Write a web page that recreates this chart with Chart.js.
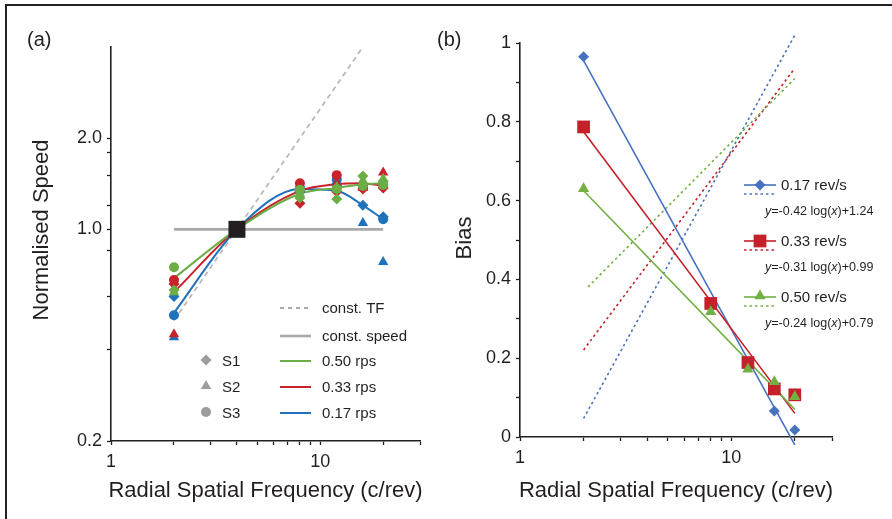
<!DOCTYPE html>
<html><head><meta charset="utf-8">
<script src="https://cdn.jsdelivr.net/npm/chart.js@4/dist/chart.umd.min.js"></script>
<style>
html,body{margin:0;padding:0;background:#fff;overflow:hidden;}
#wrap{position:relative;width:892px;height:519px;overflow:hidden;}
canvas{position:absolute;left:0;top:0;}
#frame{position:absolute;left:5px;top:4px;width:1000px;height:700px;border-left:2px solid #222;border-top:2px solid #222;}
</style></head><body>
<div id="wrap">
<div id="frame"></div>
<canvas id="ca" width="892" height="519" style="width:892px;height:519px"></canvas>
<canvas id="cb" width="892" height="519" style="width:892px;height:519px"></canvas>
</div>
<script>
// ---------- Panel (a) data ----------
const freqA = [2, 4, 8, 12, 16, 20];
const fit050A = [0.69, 1.00, 1.31, 1.37, 1.41, 1.42];
const fit033A = [0.62, 1.00, 1.34, 1.41, 1.42, 1.39];
const fit017A = [0.53, 1.00, 1.36, 1.34, 1.20, 1.08];
const tfX = [2, 16];
const tfY = [0.5, 4];
const speedX = [2, 20];
const speedY = [1, 1];
const normX = [4];
const normY = [1];
const freqPts = [2, 8, 12, 16, 20];
const s1_050 = [0.63, 1.27, 1.26, 1.50, 1.44];
const s2_050 = [0.62, 1.31, 1.38, 1.45, 1.47];
const s3_050 = [0.75, 1.35, 1.36, 1.39, 1.40];
const s1_033 = [0.66, 1.22, 1.33, 1.36, 1.37];
const s2_033 = [0.45, 1.38, 1.42, 1.37, 1.54];
const s3_033 = [0.68, 1.42, 1.51, 1.38, 1.40];
const s1_017 = [0.60, 1.33, 1.40, 1.20, 1.10];
const s2_017 = [0.44, 1.36, 1.44, 1.05, 0.78];
const s3_017 = [0.52, 1.37, 1.46, 1.38, 1.08];
const xTicks = [1, 2, 3, 4, 5, 6, 7, 8, 9, 10, 20, 30];
const xTickLabels = {1: '1', 10: '10'};
const yTicksA = [0.2, 0.4, 0.6, 0.85, 1, 1.2, 1.5, 1.8, 2];
const yTickLabelsA = {0.2: '0.2', 1: '1.0', 2: '2.0'};
const legendA = ['const. TF', 'const. speed', '0.50 rps', '0.33 rps', '0.17 rps'];
const subjLabels = ['S1', 'S2', 'S3'];

// ---------- Panel (b) data ----------
const freqB = [2, 8, 12, 16, 20];
const bias017 = [0.965, 0.33, 0.18, 0.066, 0.018];
const bias033 = [0.787, 0.339, 0.189, 0.122, 0.107];
const bias050 = [0.630, 0.318, 0.172, 0.140, 0.102];
const fitLineX = [2, 20];
const fit017B = [0.955, -0.02];
const fit033B = [0.775, 0.06];
const fit050B = [0.625, 0.07];
const dotX017 = [2, 20];
const dot017 = [0.047, 1.02];
const dotX033 = [2, 20];
const dot033 = [0.221, 0.936];
const dotX050 = [2.1, 20];
const dot050 = [0.381, 0.910];
const yTicksB = [0, 0.1, 0.2, 0.3, 0.4, 0.5, 0.6, 0.7, 0.8, 0.9, 1];
const legendB = ['0.17 rev/s', '0.33 rev/s', '0.50 rev/s'];
const eqB = [['-0.42', '+1.24'], ['-0.31', '+0.99'], ['-0.24', '+0.79']];

const FONT = '"Liberation Sans", Arial, Helvetica, sans-serif';
const INK = '#231f20';
const GREEN = '#6cae46', RED = '#c9222b', BLUE = '#1f72bb';
const GREEN_B = '#72b043', RED_B = '#c4212a', BLUE_B = '#4672c0';
const GREY = '#a9a9ad';

function pts(xs, ys) { return xs.map((x, i) => ({x: x, y: ys[i]})); }

function marker(ctx, style, x, y, r, color) {
  ctx.save();
  ctx.fillStyle = color;
  ctx.beginPath();
  if (style === 'circle') ctx.arc(x, y, r, 0, Math.PI * 2);
  else if (style === 'triangle') { ctx.moveTo(x, y - r); ctx.lineTo(x + r * 0.866, y + r / 2); ctx.lineTo(x - r * 0.866, y + r / 2); ctx.closePath(); }
  else if (style === 'rectRot') { ctx.moveTo(x - r, y); ctx.lineTo(x, y - r); ctx.lineTo(x + r, y); ctx.lineTo(x, y + r); ctx.closePath(); }
  else if (style === 'rect') { const s = r * Math.SQRT1_2; ctx.rect(x - s, y - s, 2 * s, 2 * s); }
  ctx.fill();
  ctx.restore();
}

function scatterSet(data, color, style, r, order) {
  return {data: pts(freqPts, data), showLine: false, pointStyle: style, pointRadius: r,
    pointBackgroundColor: color, pointBorderColor: color, pointBorderWidth: 0, order: order};
}
function lineSet(xs, ys, color, width, dash, order, extra) {
  return Object.assign({data: pts(xs, ys), showLine: true, borderColor: color, borderWidth: width,
    borderDash: dash || [], pointRadius: 0, fill: false, order: order, clip: false}, extra || {});
}

function fixTicks(arr) {
  return function (scale) { scale.ticks = arr.map(v => ({value: v})); };
}

const annotA = {
  id: 'annotA',
  afterDraw(chart) {
    const c = chart.ctx;
    c.save();
    c.fillStyle = INK;
    c.textBaseline = 'middle';
    c.font = '20px ' + FONT;
    c.textAlign = 'left';
    c.fillText('(a)', 27, 40);
    c.font = '22px ' + FONT;
    c.textAlign = 'center';
    const a = chart.chartArea;
    c.fillText('Radial Spatial Frequency (c/rev)', (a.left + a.right) / 2, 491);
    c.save(); c.translate(42, 230); c.rotate(-Math.PI / 2); c.fillText('Normalised Speed', 0, 0); c.restore();
    // legend lines
    const ys = [308, 336, 361, 387, 413];
    const cols = [GREY, GREY, GREEN, RED, BLUE];
    const dashes = [[4, 4], [], [], [], []];
    const widths = [1.8, 2.6, 2, 2, 2];
    c.font = '15px ' + FONT;
    c.textAlign = 'left';
    for (let i = 0; i < legendA.length; i++) {
      c.beginPath();
      c.strokeStyle = cols[i]; c.lineWidth = widths[i]; c.setLineDash(dashes[i]);
      c.moveTo(280, ys[i]); c.lineTo(311, ys[i]); c.stroke();
      c.fillStyle = INK;
      c.fillText(legendA[i], 322, ys[i] + 1);
    }
    c.setLineDash([]);
    const styles = ['rectRot', 'triangle', 'circle'];
    const rs = [5.5, 6, 5];
    for (let i = 0; i < 3; i++) {
      marker(c, styles[i], 206, ys[i + 2] - 1, rs[i], '#9d9d9f');
      c.fillStyle = INK;
      c.fillText(subjLabels[i], 222, ys[i + 2] + 1);
    }
    c.restore();
  }
};

const chartA = new Chart(document.getElementById('ca'), {
  type: 'scatter',
  data: {datasets: [
    lineSet(tfX, tfY, '#b9b9bc', 1.8, [5, 4], 30),
    lineSet(speedX, speedY, GREY, 2.6, [], 29),
    lineSet(freqA, fit017A, BLUE, 2, [], 20, {cubicInterpolationMode: 'monotone'}),
    lineSet(freqA, fit033A, RED, 2, [], 19, {cubicInterpolationMode: 'monotone'}),
    lineSet(freqA, fit050A, GREEN, 2, [], 18, {cubicInterpolationMode: 'monotone'}),
    scatterSet(s2_017, BLUE, 'triangle', 6, 15),
    scatterSet(s1_017, BLUE, 'rectRot', 5.5, 14),
    scatterSet(s3_017, BLUE, 'circle', 5, 13),
    scatterSet(s1_033, RED, 'rectRot', 5.5, 12),
    scatterSet(s2_033, RED, 'triangle', 6, 11),
    scatterSet(s3_033, RED, 'circle', 5, 10),
    scatterSet(s1_050, GREEN, 'rectRot', 5.5, 9),
    scatterSet(s2_050, GREEN, 'triangle', 6, 8),
    scatterSet(s3_050, GREEN, 'circle', 5, 7),
    {data: pts(normX, normY), showLine: false, pointStyle: 'rect', pointRadius: 12,
      pointBackgroundColor: INK, pointBorderWidth: 0, order: 1}
  ]},
  options: {
    responsive: false, animation: false, devicePixelRatio: 1,
    layout: {padding: {left: 71, right: 472, top: 47, bottom: 48}},
    plugins: {legend: {display: false}, tooltip: {enabled: false}},
    scales: {
      x: {type: 'logarithmic', min: 1, max: 30, afterBuildTicks: fixTicks(xTicks),
        afterFit(s) { s.height = 30; },
        border: {display: true, color: INK, width: 1.6},
        grid: {drawOnChartArea: false, drawTicks: true, tickLength: 4, tickColor: INK, tickWidth: 1.3},
        ticks: {autoSkip: false, maxRotation: 0, padding: 6, color: INK, font: {family: FONT, size: 18},
          callback: v => xTickLabels[v] || ''}},
      y: {type: 'logarithmic', min: 0.2, max: 4, afterBuildTicks: fixTicks(yTicksA),
        afterFit(s) { s.width = 40; },
        border: {display: true, color: INK, width: 1.6},
        grid: {drawOnChartArea: false, drawTicks: true, tickLength: 4, tickColor: INK, tickWidth: 1.3},
        ticks: {autoSkip: false, padding: 5, color: INK, font: {family: FONT, size: 18},
          callback: v => yTickLabelsA[v] || ''}}
    }
  },
  plugins: [annotA]
});

const annotB = {
  id: 'annotB',
  afterDraw(chart) {
    const c = chart.ctx;
    c.save();
    c.fillStyle = INK;
    c.textBaseline = 'middle';
    c.font = '20px ' + FONT;
    c.textAlign = 'left';
    c.fillText('(b)', 437, 40);
    c.font = '22px ' + FONT;
    c.textAlign = 'center';
    const a = chart.chartArea;
    c.fillText('Radial Spatial Frequency (c/rev)', (a.left + a.right) / 2, 491);
    c.save(); c.translate(465, 238); c.rotate(-Math.PI / 2); c.fillText('Bias', 0, 0); c.restore();
    c.textAlign = 'left';
    const ys = [185, 241, 297];
    const cols = [BLUE_B, RED_B, GREEN_B];
    const styles = ['rectRot', 'rect', 'triangle'];
    const rs = [5.5, 9, 6.5];
    const EQF = '12.5px ';
    for (let i = 0; i < 3; i++) {
      const y = ys[i];
      c.strokeStyle = cols[i]; c.lineWidth = 1.6;
      c.setLineDash([]);
      c.beginPath(); c.moveTo(744, y); c.lineTo(776, y); c.stroke();
      c.setLineDash([2.5, 3]);
      c.beginPath(); c.moveTo(744, y + 9); c.lineTo(776, y + 9); c.stroke();
      c.setLineDash([]);
      marker(c, styles[i], 760, y - (styles[i] === 'triangle' ? 1 : 0), rs[i], cols[i]);
      c.fillStyle = INK;
      c.font = '15px ' + FONT;
      c.fillText(legendB[i], 781, y + 1);
      // equation
      let x = 765;
      const ey = y + 27;
      c.font = 'italic ' + EQF + FONT; c.fillText('y', x, ey); x += c.measureText('y').width;
      c.font = EQF + FONT; const p1 = '=' + eqB[i][0] + ' log('; c.fillText(p1, x, ey); x += c.measureText(p1).width;
      c.font = 'italic ' + EQF + FONT; c.fillText('x', x, ey); x += c.measureText('x').width;
      c.font = EQF + FONT; c.fillText(')' + eqB[i][1], x, ey);
    }
    c.restore();
  }
};

function markSet(xs, ys, color, style, r, order) {
  return {data: pts(xs, ys), showLine: false, pointStyle: style, pointRadius: r,
    pointBackgroundColor: color, pointBorderWidth: 0, order: order, clip: false};
}

const chartB = new Chart(document.getElementById('cb'), {
  type: 'scatter',
  data: {datasets: [
    lineSet(dotX017, dot017, BLUE_B, 1.6, [2.5, 3], 30),
    lineSet(dotX033, dot033, RED_B, 1.6, [2.5, 3], 29),
    lineSet(dotX050, dot050, GREEN_B, 1.6, [2.5, 3], 28),
    lineSet(fitLineX, fit017B, BLUE_B, 1.6, [], 22),
    lineSet(fitLineX, fit033B, RED_B, 1.6, [], 21),
    lineSet(fitLineX, fit050B, GREEN_B, 1.6, [], 20),
    markSet(freqB, bias017, BLUE_B, 'rectRot', 5.5, 5),
    markSet(freqB, bias033, RED_B, 'rect', 9, 4),
    markSet(freqB, bias050, GREEN_B, 'triangle', 6.5, 3)
  ]},
  options: {
    responsive: false, animation: false, devicePixelRatio: 1,
    layout: {padding: {left: 480, right: 60, top: 43, bottom: 52}},
    plugins: {legend: {display: false}, tooltip: {enabled: false}},
    scales: {
      x: {type: 'logarithmic', min: 1, max: 30, afterBuildTicks: fixTicks(xTicks),
        afterFit(s) { s.height = 30; },
        border: {display: true, color: INK, width: 1.6},
        grid: {drawOnChartArea: false, drawTicks: true, tickLength: 4, tickColor: INK, tickWidth: 1.3},
        ticks: {autoSkip: false, maxRotation: 0, padding: 6, color: INK, font: {family: FONT, size: 18},
          callback: v => xTickLabels[v] || ''}},
      y: {type: 'linear', min: 0, max: 1, afterBuildTicks: fixTicks(yTicksB),
        afterFit(s) { s.width = 40; },
        border: {display: true, color: INK, width: 1.6},
        grid: {drawOnChartArea: false, drawTicks: true, tickLength: 4, tickColor: INK, tickWidth: 1.3},
        ticks: {autoSkip: false, padding: 5, color: INK, font: {family: FONT, size: 18},
          callback: v => { const k = Math.round(v * 10); if (k % 2) return ''; return k === 0 ? '0' : k === 10 ? '1' : (k / 10).toFixed(1); }}}
    }
  },
  plugins: [annotB]
});
</script>
</body></html>
